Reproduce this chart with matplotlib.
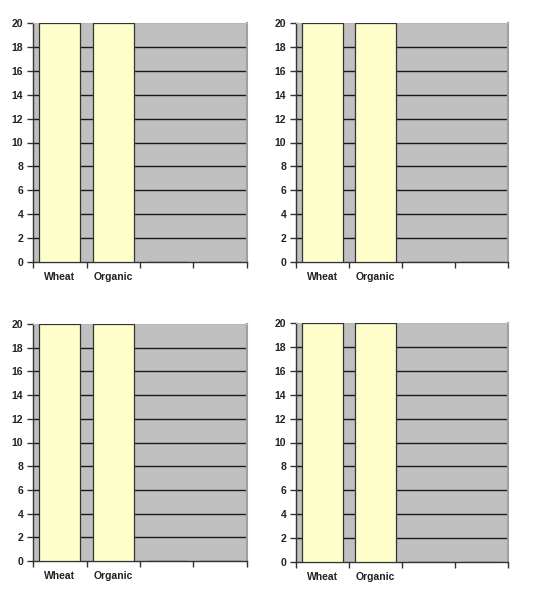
import matplotlib
matplotlib.use("Agg")
import matplotlib.pyplot as plt
import numpy as np

categories = ["Wheat", "Organic", "", ""]
values_tl = [20, 20, 0, 0]
values_tr = [20, 20, 0, 0]
values_bl = [20, 20, 0, 0]
values_br = [20, 20, 0, 0]
yticks = list(range(0, 21, 2))

plt.rcParams['font.family'] = ['Liberation Sans', 'DejaVu Sans']

fig = plt.figure(figsize=(5.33, 6.0), dpi=100)

W, H = 533, 600
boxes = [
    (33, 247, 23, 262, values_tl),
    (296, 508, 23, 262, values_tr),
    (33, 247, 324, 561, values_bl),
    (296, 508, 323, 562, values_br),
]

for (x0, x1, y0, y1, vals) in boxes:
    ax = fig.add_axes([x0 / W, 1 - y1 / H, (x1 - x0) / W, (y1 - y0) / H])
    ax.set_facecolor("#C0C0C0")
    n = len(categories)
    x = np.arange(n)
    ax.bar(x, vals, width=0.77, color="#FFFFCC", edgecolor="#333333",
           linewidth=0.9, zorder=3)
    ax.set_xlim(-0.5, n - 0.5)
    ax.set_ylim(0, 20)
    ax.set_yticks(yticks)
    ax.set_yticklabels([str(v) for v in yticks], fontsize=7.5,
                       fontweight="bold", color="#222222")
    for yv in yticks[1:-1]:
        ax.axhline(yv, color="#1a1a1a", linewidth=1.0, zorder=1)
    ax.set_xticks(np.arange(n + 1) - 0.5)
    ax.set_xticklabels([])
    ax.set_xticks(x, minor=True)
    ax.set_xticklabels(categories, minor=True, fontsize=7.5,
                       fontweight="bold", color="#222222")
    ax.tick_params(axis="x", which="minor", length=0, pad=7)
    ax.tick_params(axis="x", which="major", length=4, width=1,
                   color="#333333", direction="out")
    ax.tick_params(axis="y", length=4, width=1, color="#333333",
                   direction="out", pad=3)
    ax.spines["left"].set_color("#333333")
    ax.spines["bottom"].set_color("#333333")
    ax.spines["left"].set_linewidth(1.0)
    ax.spines["bottom"].set_linewidth(1.0)
    ax.spines["top"].set_color("#B8B8B8")
    ax.spines["right"].set_color("#A0A0A0")
    ax.spines["right"].set_linewidth(1.5)

fig.savefig("out.png", dpi=100)
